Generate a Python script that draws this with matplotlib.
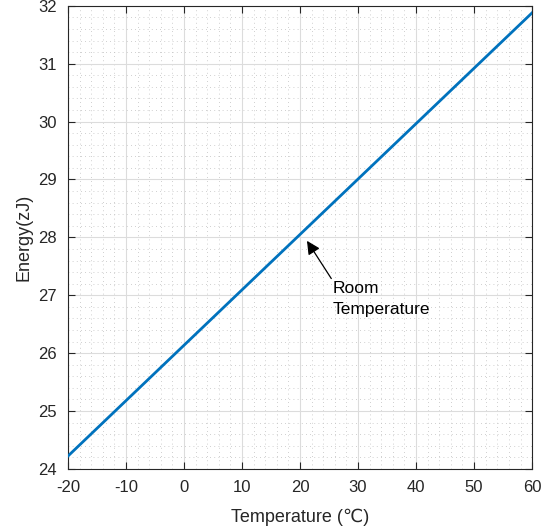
import matplotlib
matplotlib.use('Agg')
import matplotlib.pyplot as plt
import numpy as np
from matplotlib.ticker import MultipleLocator

plt.rcParams['font.family'] = ['Liberation Sans', 'DejaVu Sans']
plt.rcParams['axes.unicode_minus'] = False

# line endpoints
temp = [-20, 60]
energy = [24.22, 31.88]

xticks = list(range(-20, 61, 10))
yticks = list(range(24, 33))

fig = plt.figure(figsize=(5.52, 5.31), dpi=100)
ax = fig.add_axes([0.123, 0.117, 0.841, 0.872])

ax.plot(temp, energy, color='#0072BD', lw=2.0, zorder=3)

ax.set_xlim(-20, 60)
ax.set_ylim(24, 32)
ax.set_xticks(xticks)
ax.set_yticks(yticks)
ax.xaxis.set_minor_locator(MultipleLocator(2))
ax.yaxis.set_minor_locator(MultipleLocator(0.2))
ax.grid(which='major', color='#dcdcdc', lw=0.8)
ax.grid(which='minor', color='#c0c0c0', lw=0.6, ls=(0, (1, 4)))
ax.tick_params(which='both', direction='in', top=True, right=True, labelsize=12, colors='#262626')
ax.tick_params(which='minor', length=0)
ax.tick_params(which='major', length=5, pad=8)
for s in ax.spines.values():
    s.set_color('#262626')
    s.set_linewidth(0.8)

ax.set_xlabel('Temperature (\u2103)', fontsize=13, color='#262626', labelpad=10)
ax.set_ylabel('Energy(zJ)', fontsize=13, color='#262626', labelpad=4)

ax.annotate('Room\nTemperature', xy=(21.2, 27.94), xytext=(25.7, 27.24),
            fontsize=12.5, ha='left', va='top', color='black', linespacing=1.45,
            arrowprops=dict(arrowstyle='-|>', color='black', lw=0.9, mutation_scale=20,
                            shrinkA=0, shrinkB=0, relpos=(0, 1)))

fig.savefig('out.png', dpi=100)
